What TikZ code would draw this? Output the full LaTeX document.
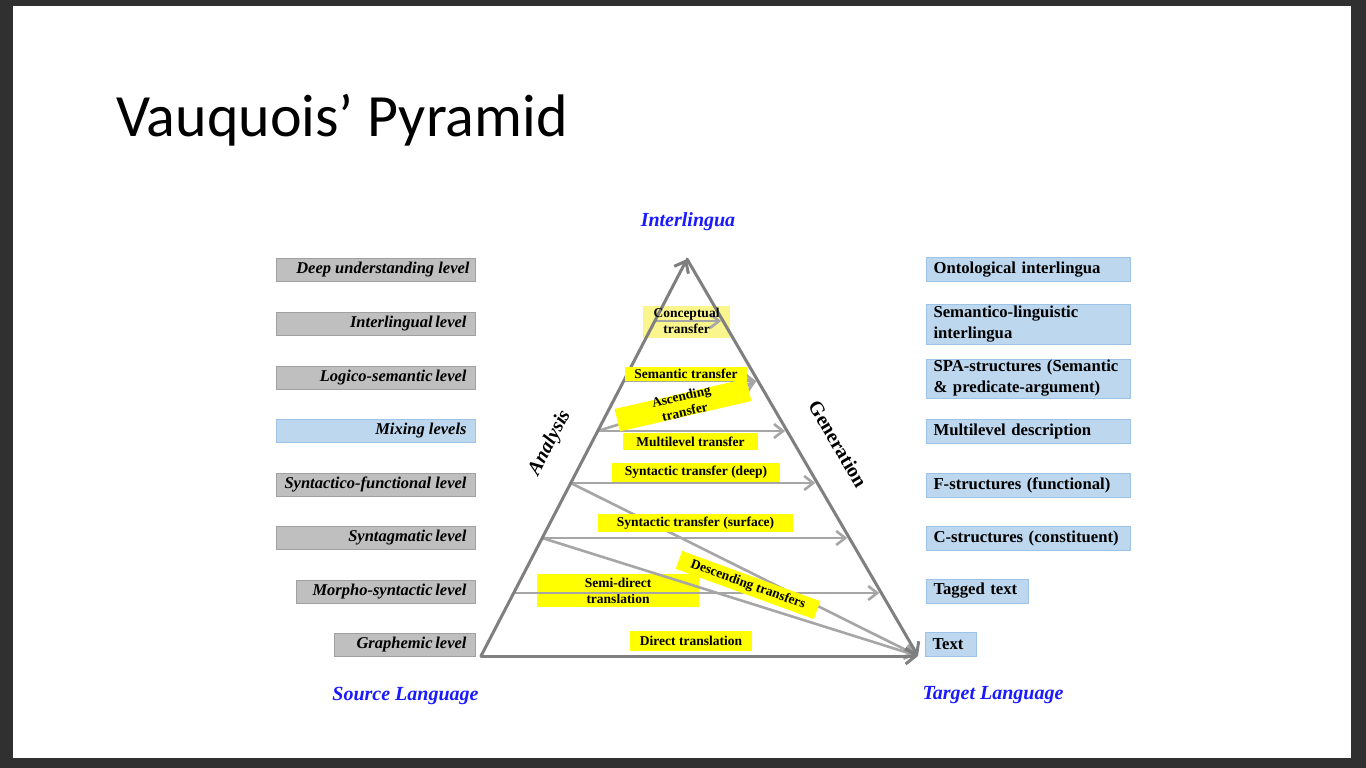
\documentclass[tikz,border=0pt]{standalone}
\usepackage{fontspec}
\setmainfont{Liberation Serif}
\newfontfamily\titlefont{Carlito}
\usetikzlibrary{arrows.meta}

\definecolor{frame}{HTML}{303030}
\definecolor{edgegray}{HTML}{7F7F7F}
\definecolor{arrowgray}{HTML}{A6A6A6}
\definecolor{levelgray}{HTML}{BFBFBF}
\definecolor{levelgrayline}{HTML}{A0A0A0}
\definecolor{levelblue}{HTML}{BDD7EE}
\definecolor{levelblueline}{HTML}{9DC3E6}
\definecolor{hilite}{HTML}{FFFF00}
\definecolor{palehilite}{HTML}{FAF58C}
\definecolor{captionblue}{HTML}{1A1AFF}

\begin{document}
\begin{tikzpicture}[x=1pt,y=-1pt,
  srclevel/.style={draw=levelgrayline, fill=levelgray, line width=1pt, anchor=east,
    minimum width=199pt, minimum height=23pt, inner xsep=6pt, inner ysep=0pt,
    font=\fontsize{16.5}{20}\selectfont\bfseries\itshape},
  tgtlevel/.style={draw=levelblueline, fill=levelblue, line width=1pt, anchor=west,
    minimum height=24pt, inner xsep=7pt, inner ysep=0pt, align=left,
    font=\fontsize{16.7}{21}\selectfont\bfseries},
  hl/.style={fill=hilite, inner sep=0pt, align=center,
    font=\fontsize{13.5}{16}\selectfont\bfseries},
  hltext/.style={inner sep=0pt, align=center,
    font=\fontsize{13.5}{16}\selectfont\bfseries},
  pyredge/.style={draw=edgegray, line width=3pt, line cap=round,
    -{Straight Barb[length=10pt,width=16pt]}},
  xfer/.style={draw=arrowgray, line width=2.6pt, shorten >=2pt,
    -{Straight Barb[length=9pt,width=14pt]}},
  caption/.style={text=captionblue, inner sep=0pt,
    font=\fontsize{20}{24}\selectfont\bfseries\itshape},
  sidetext/.style={inner sep=0pt, font=\fontsize{20}{24}\selectfont\bfseries}
]
\useasboundingbox (0,0) rectangle (1366,768);
% slide frame
\fill[frame] (0,0) rectangle (1366,768);
\fill[white] (13,6) rectangle (1351,758);

% title
\node[anchor=base west, inner sep=0pt, font=\titlefont\fontsize{60}{72}\selectfont]
  (title) at (116,136) {Vauquois’ Pyramid};

% pyramid corners
\coordinate (bl) at (481,656);
\coordinate (apex) at (687,259);
\coordinate (br) at (918,656);

% points on the analysis side
\coordinate (L1) at (654.8,321);
\coordinate (L2) at (623.7,381);
\coordinate (L3) at (597.8,431);
\coordinate (L4) at (570.8,483);
\coordinate (L5) at (542.2,538);
\coordinate (L6) at (513.7,593);
% points on the generation side
\coordinate (R1) at (723.1,321);
\coordinate (R2) at (758,381);
\coordinate (R3) at (787.1,431);
\coordinate (R4) at (817.3,483);
\coordinate (R5) at (849.3,538);
\coordinate (R6) at (881.3,593);

% boxes lying under their arrows
\node[fill=palehilite, inner sep=0pt, minimum width=87pt, minimum height=32pt] (conceptbox) at (686.5,322) {};
\node[hl, minimum width=162pt, minimum height=33pt] (semidirect) at (618,590.5) {Semi-direct\\translation};

% transfer arrows
\draw[xfer] (L1) -- (R1);
\draw[xfer] (L2) -- (R2);
\draw[xfer] (L3) -- (R2);
\draw[xfer] (L3) -- (R3);
\draw[xfer] (L4) -- (R4);
\draw[xfer] (L5) -- (R5);
\draw[xfer] (L6) -- (R6);
\draw[xfer] (L4) -- (br);
\draw[xfer] (L5) -- (br);

% pyramid sides
\draw[pyredge] (bl) -- (apex);
\draw[pyredge] (apex) -- (br);
\draw[pyredge] (bl) -- (br);

% transfer labels
\node[hltext] (concept) at (686.5,321) {Conceptual\\transfer};
\node[hl, minimum width=122pt, minimum height=14pt] (semantic) at (686,373.5) {Semantic transfer};
\node[hl, minimum width=135pt, minimum height=23pt, rotate=13] (ascbox) at (683,405) {};
\node[hltext, rotate=13] (ascending) at (683,404) {Ascending\\transfer};
\node[hl, minimum width=135pt, minimum height=17pt] (multi) at (690.5,441.5) {Multilevel transfer};
\node[hl, minimum width=168pt, minimum height=19pt] (deepx) at (696,472.5) {Syntactic transfer (deep)};
\node[hl, minimum width=195pt, minimum height=18pt] (surfx) at (695.5,523) {Syntactic transfer (surface)};
\node[hl, minimum width=147pt, minimum height=19pt, rotate=-20] (descending) at (748,585) {Descending transfers};
\node[hl, minimum width=122pt, minimum height=20pt] (direct) at (691,641) {Direct translation};

% side names
\node[sidetext, font=\fontsize{20}{24}\selectfont\bfseries\itshape, rotate=62.5] (analysis) at (550,443) {Analysis};
\node[sidetext, rotate=-59.7] (generation) at (838,444) {Generation};

% end points
\node[caption] (interlingua) at (688,222) {Interlingua};
\node[caption] (source) at (405.5,696) {Source Language};
\node[caption] (target) at (993,695) {Target Language};

% source-side levels
\node[srclevel] (deep) at (476,270) {\makebox[187pt][r]{Deep understanding level}};
\node[srclevel] (interl) at (476,323.5) {\makebox[187pt][r]{Interlingual\,level\hspace{3pt}}};
\node[srclevel] (logico) at (476,377.5) {\makebox[187pt][r]{Logico-semantic\,level\hspace{3pt}}};
\node[srclevel, fill=levelblue, draw=levelblueline] (mixing) at (476,430.5) {\makebox[187pt][r]{Mixing levels\hspace{3pt}}};
\node[srclevel] (synfun) at (476,484.5) {\makebox[187pt][r]{Syntactico-functional level\hspace{3pt}}};
\node[srclevel] (syntag) at (476,537.5) {\makebox[187pt][r]{Syntagmatic\,level\hspace{3pt}}};
\node[srclevel, minimum width=179pt] (morpho) at (476,591.5) {\makebox[167pt][r]{Morpho-syntactic\,level\hspace{3pt}}};
\node[srclevel, minimum width=141pt] (graph) at (476,644.5) {\makebox[129pt][r]{Graphemic\,level\hspace{3pt}}};

% target-side representations
\node[tgtlevel, text width=190pt] (onto) at (926,269.5) {Ontological interlingua};
\node[tgtlevel, text width=190pt, minimum height=40pt] (semling) at (926,324) {Semantico-linguistic\\interlingua};
\node[tgtlevel, text width=190pt, minimum height=39pt] (spa) at (926,378.5) {SPA-structures (Semantic\\\& predicate-argument)};
\node[tgtlevel, text width=190pt] (multidesc) at (926,431) {Multilevel description};
\node[tgtlevel, text width=190pt] (fstruct) at (926,485) {F-structures (functional)};
\node[tgtlevel, text width=190pt] (cstruct) at (926,538) {C-structures (constituent)};
\node[tgtlevel, text width=88pt] (tagged) at (926,591) {Tagged text};
\node[tgtlevel, text width=37pt] (text) at (925,644) {Text};
\end{tikzpicture}
\end{document}
